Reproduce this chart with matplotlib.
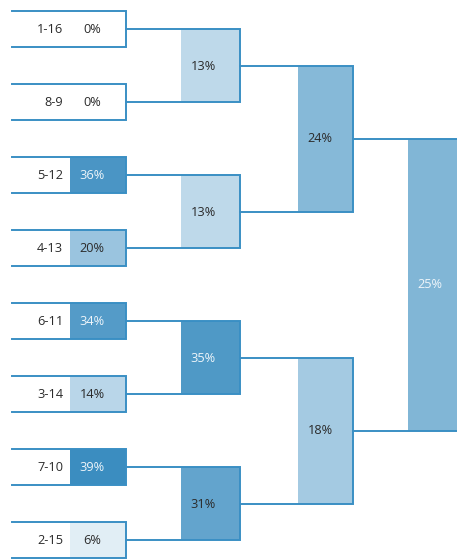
import matplotlib
matplotlib.use("Agg")
import matplotlib.pyplot as plt
from matplotlib.patches import Rectangle
from matplotlib.colors import LinearSegmentedColormap, Normalize

# Matchups (first round) and win probabilities per round
matchups = ["1-16", "8-9", "5-12", "4-13", "6-11", "3-14", "7-10", "2-15"]
round1 = [0, 0, 36, 20, 34, 14, 39, 6]
round2 = [13, 13, 35, 31]
round3 = [24, 18]
final = [25]
rounds = [round1, round2, round3, final]

W, H = 457, 559
LINE = "#3a8fc4"
DARK = "#2b2b2b"
LIGHT = "#eef5fa"
cmap = LinearSegmentedColormap.from_list("bracket", ["#ffffff", "#3b8dc0"])
norm = Normalize(0, 39)

fig = plt.figure(figsize=(W / 100, H / 100), dpi=100)
ax = fig.add_axes([0, 0, 1, 1])
ax.set_xlim(0, W)
ax.set_ylim(H, 0)
ax.axis("off")

FONT = dict(family=["Open Sans", "DejaVu Sans"], fontsize=9.2)

# layout of the bracket columns
box_left = 12
right_edges = [126, 240, 353, 467]
fill_lefts = [70, 181, 298, 408]
pitch, first_center, half_h = 73, 29, 18

centers = []
spans = []
for r, vals in enumerate(rounds):
    cs, sp = [], []
    for k in range(len(vals)):
        if r == 0:
            c = first_center + pitch * k
            top, bot = c - half_h, c + half_h
        else:
            top, bot = centers[r - 1][2 * k], centers[r - 1][2 * k + 1]
            c = (top + bot) / 2
        cs.append(c)
        sp.append((top, bot))
    centers.append(cs)
    spans.append(sp)

for r, vals in enumerate(rounds):
    left = box_left if r == 0 else right_edges[r - 1]
    right = right_edges[r]
    fl = fill_lefts[r]
    for k, v in enumerate(vals):
        top, bot = spans[r][k]
        if v > 0:
            ax.add_patch(Rectangle((fl, top), right - fl, bot - top,
                                   facecolor=cmap(norm(v)), edgecolor="none", zorder=1))
        ax.plot([left, right, right, left], [top, top, bot, bot],
                color=LINE, lw=1.4, zorder=3, solid_joinstyle="miter")
        yc = (top + bot) / 2
        light = v >= 33 or r == len(rounds) - 1
        ax.text(fl + 22, yc + 0.5, f"{v}%", ha="center", va="center",
                color=LIGHT if light else DARK, zorder=4, **FONT)
        if r == 0:
            ax.text(63, yc + 0.5, matchups[k], ha="right", va="center",
                    color=DARK, zorder=4, **FONT)

fig.savefig("out.png", dpi=100)
